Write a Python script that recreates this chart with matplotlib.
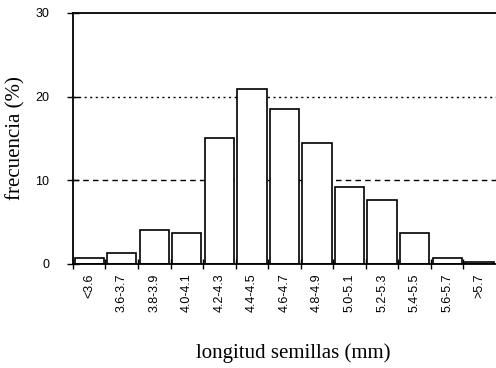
import matplotlib
matplotlib.use('Agg')
import matplotlib.pyplot as plt
import numpy as np

# Datos: frecuencia (%) por clase de longitud de semilla
clases = ['<3.6', '3.6-3.7', '3.8-3.9', '4.0-4.1', '4.2-4.3', '4.4-4.5', '4.6-4.7',
          '4.8-4.9', '5.0-5.1', '5.2-5.3', '5.4-5.5', '5.6-5.7', '>5.7']
frecuencia = [0.7, 1.3, 4.1, 3.7, 15.1, 20.9, 18.5, 14.5, 9.2, 7.6, 3.7, 0.7, 0.2]
yticks = [0, 10, 20, 30]

fig = plt.figure(figsize=(4.96, 3.68), dpi=100)
ax = fig.add_axes([0.147, 0.283, 0.853, 0.682])

x = np.arange(len(clases))
ax.axhline(10, color='black', lw=1, linestyle=(0, (4, 3)), zorder=1)
ax.axhline(20, color='black', lw=1, linestyle=(0, (1.5, 2.5)), zorder=1)
ax.bar(x, frecuencia, width=0.9, color='white', edgecolor='black', linewidth=1.2, zorder=2)

ax.set_xlim(-0.5, len(clases) - 0.5)
ax.set_ylim(0, 30)
ax.set_yticks(yticks)
ax.set_yticklabels([str(v) for v in yticks], fontsize=9, family='Liberation Sans')
ax.set_xticks(x - 0.5, minor=False)
ax.set_xticklabels([''] * len(clases))
ax.set_xticks(x, minor=True)
ax.set_xticklabels(clases, minor=True, rotation=90, fontsize=9, family='Liberation Sans')
ax.tick_params(axis='x', which='minor', length=0, pad=7)
ax.tick_params(axis='x', which='major', length=7, width=1, direction='inout')
ax.tick_params(axis='y', length=8, width=1, direction='inout', pad=13)

ax.spines['right'].set_visible(False)
for s in ['top', 'bottom', 'left']:
    ax.spines[s].set_linewidth(1.3)

ax.set_ylabel('frecuencia (%)', fontsize=15, family='Liberation Serif')
ax.yaxis.set_label_coords(-0.113, 0.5)
ax.set_xlabel('longitud semillas (mm)', fontsize=15, family='Liberation Serif')
ax.xaxis.set_label_coords(0.52, -0.315)

fig.savefig('out.png', dpi=100)
